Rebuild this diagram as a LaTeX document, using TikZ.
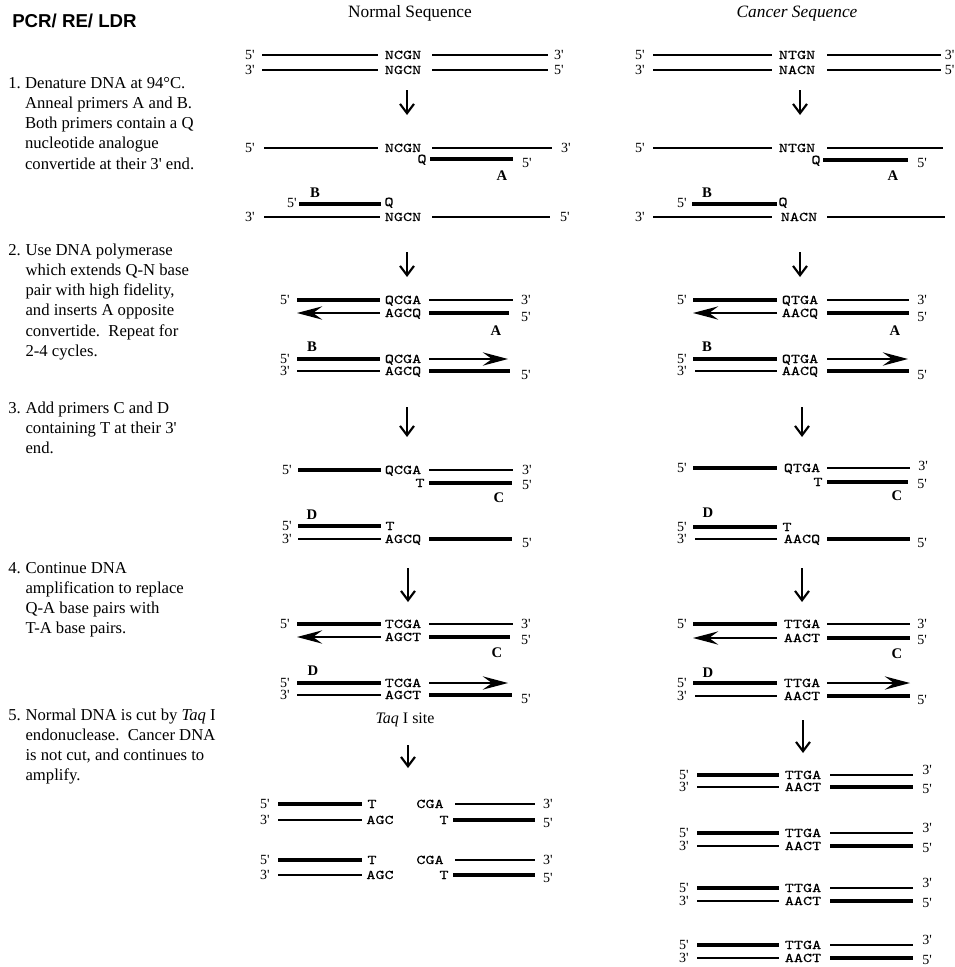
\documentclass[tikz,border=0pt]{standalone}
\usepackage{fontspec}
\setmainfont{Liberation Serif}[Ligatures=TeXOff]
\newfontfamily\headsans{Liberation Sans}
\newfontfamily\seqfont[FakeStretch=1.3,FakeBold=0.15]{Latin Modern Mono}
\usetikzlibrary{arrows.meta}
\newcounter{nn}
\tikzset{
  slimline/.style={line width=1.1pt},
  fatline/.style={line width=3pt},
  growarr/.style={line width=1.1pt,-{Stealth[length=19pt,width=10pt,inset=7pt]}},
  steparr/.style={line width=1.6pt,-{Straight Barb[length=7pt,width=10.5pt]}},
  lab/.style={font=\fontsize{10.5}{12}\selectfont,inner sep=0pt,anchor=base},
  seqt/.style={font=\seqfont\fontsize{10}{12}\selectfont,inner sep=0pt,anchor=base},
  primlab/.style={font=\bfseries\fontsize{11}{13}\selectfont,inner sep=0pt,anchor=base},
  steptext/.style={font=\fontsize{12.5}{15.2}\selectfont,inner sep=0pt,anchor=base west},
}
\newcommand\mylbl[3]{\stepcounter{nn}\node[lab] (n\arabic{nn}) at (#1,#2+4.5) {#3};}
\newcommand\myseq[3]{\stepcounter{nn}\node[seqt] (n\arabic{nn}) at (#1,#2+4) {#3};}
\newcommand\prim[3]{\stepcounter{nn}\node[primlab] (n\arabic{nn}) at (#1,#2+5) {#3};}
\newcommand\slimseg[3]{\draw[slimline] (#1,#3) -- (#2,#3);}
\newcommand\fatseg[3]{\draw[fatline] (#1,#3) -- (#2,#3);}
\newcommand\grow[3]{\draw[growarr] (#1,#3) -- (#2,#3);}
\newcommand\stepdown[4]{\coordinate (#1a) at (#2,#3); \coordinate (#1b) at (#2,#4); \draw[steparr] (#1a) -- (#1b);}
\newcommand\ind{\hspace*{13pt}}
\begin{document}
\begin{tikzpicture}[x=0.75pt,y=-0.75pt]
\useasboundingbox[fill=white] (0,0) rectangle (954,967);

% ---------- headings ----------
\node[inner sep=0pt,anchor=base west,font=\headsans\bfseries\fontsize{14}{16}\selectfont] (title) at (12,27) {PCR/ RE/ LDR};
\node[inner sep=0pt,anchor=base,font=\fontsize{13}{15}\selectfont] (hnorm) at (410,17) {Normal Sequence};
\node[inner sep=0pt,anchor=base,font=\itshape\fontsize{13}{15}\selectfont] (hcanc) at (797,17) {Cancer Sequence};

% ---------- step texts ----------
\node[steptext] (st1) at (8,88) {\parbox[t]{230pt}{\makebox[12.6pt][l]{1.}Denature DNA at 94°C.\\\hspace*{12.6pt}Anneal primers A and B.\\\hspace*{12.6pt}Both primers contain a Q\\\hspace*{12.6pt}nucleotide analogue\\\hspace*{12.6pt}convertide at their 3' end.}};
\node[steptext] (st2) at (8,255) {\parbox[t]{230pt}{\makebox[13pt][l]{2.}Use DNA polymerase\\\ind which extends Q-N base\\\ind pair with high fidelity,\\\ind and inserts A opposite\\\ind convertide.\ \ Repeat for\\\ind 2-4 cycles.}};
\node[steptext] (st3) at (8,413) {\parbox[t]{230pt}{\makebox[13pt][l]{3.}Add primers C and D\\\ind containing T at their 3'\\\ind end.}};
\node[steptext] (st4) at (8,573) {\parbox[t]{230pt}{\makebox[13pt][l]{4.}Continue DNA\\\ind amplification to replace\\\ind Q-A base pairs with\\\ind T-A base pairs.}};
\node[steptext] (st5) at (8,720) {\parbox[t]{230pt}{\makebox[13pt][l]{5.}Normal DNA is cut by \textit{Taq} I\\\ind endonuclease.\ \ Cancer DNA\\\ind is not cut, and continues to\\\ind amplify.}};

% ================= NORMAL COLUMN =================
\mylbl{250}{55}{5'} \slimseg{262}{378}{55} \myseq{403}{55}{NCGN} \slimseg{432}{548}{55} \mylbl{559}{55}{3'}
\mylbl{250}{70}{3'} \slimseg{262}{378}{70} \myseq{403}{70}{NGCN} \slimseg{432}{548}{70} \mylbl{559}{70}{5'}
\stepdown{na1}{407}{90}{115}
\mylbl{250}{148}{5'} \slimseg{264}{378}{148} \myseq{403}{148}{NCGN} \slimseg{432}{552}{148} \mylbl{566}{148}{3'}
\myseq{422}{159}{Q} \fatseg{430}{513}{159} \mylbl{527}{163}{5'} \prim{502}{175}{A}
\prim{315}{192}{B} \mylbl{292}{203}{5'} \fatseg{299}{381}{204} \myseq{389}{202}{Q}
\mylbl{250}{217}{3'} \slimseg{264}{380}{217} \myseq{403}{217}{NGCN} \slimseg{432}{550}{217} \mylbl{565}{217}{5'}
\stepdown{na2}{407}{252}{277}
\mylbl{285}{300}{5'} \fatseg{297}{380}{300} \myseq{403}{300}{QCGA} \slimseg{429}{513}{300} \mylbl{526}{300}{3'}
\grow{380}{297}{313} \myseq{403}{313}{AGCQ} \fatseg{429}{509}{313} \mylbl{526}{317}{5'}
\prim{496}{330}{A}
\prim{312}{346}{B}
\mylbl{285}{359}{5'} \fatseg{297}{380}{359} \myseq{403}{359}{QCGA} \grow{429}{508}{359}
\mylbl{285}{371}{3'} \slimseg{297}{380}{371} \myseq{403}{371}{AGCQ} \fatseg{429}{510}{371} \mylbl{526}{375}{5'}
\stepdown{na3}{407}{407}{437}
\mylbl{287}{470}{5'} \fatseg{298}{381}{470} \myseq{403}{470}{QCGA} \slimseg{429}{513}{470} \mylbl{527}{470}{3'}
\myseq{420}{483}{T} \fatseg{429}{512}{483} \mylbl{527}{485}{5'}
\prim{499}{497}{C}
\prim{312}{514}{D}
\mylbl{287}{526}{5'} \fatseg{298}{381}{526} \myseq{390}{526}{T}
\mylbl{287}{539}{3'} \slimseg{298}{381}{539} \myseq{403}{539}{AGCQ} \fatseg{429}{512}{539} \mylbl{527}{543}{5'}
\stepdown{na4}{408}{568}{602}
\mylbl{285}{624}{5'} \fatseg{297}{381}{624} \myseq{403}{624}{TCGA} \slimseg{429}{513}{624} \mylbl{526}{624}{3'}
\grow{381}{297}{637} \myseq{403}{637}{AGCT} \fatseg{429}{510}{637} \mylbl{526}{640}{5'}
\prim{497}{652}{C}
\prim{313}{670}{D}
\mylbl{285}{683}{5'} \fatseg{297}{381}{683} \myseq{403}{683}{TCGA} \grow{429}{508}{683}
\mylbl{285}{695}{3'} \slimseg{297}{381}{695} \myseq{403}{695}{AGCT} \fatseg{429}{512}{695} \mylbl{526}{699}{5'}
\node[inner sep=0pt,anchor=base,font=\fontsize{12}{14}\selectfont] (taq) at (405,723) {\textit{Taq} I site};
\stepdown{na5}{408}{745}{768}
\foreach \ya/\yb in {804/820,860/875}{
  \mylbl{265}{\ya}{5'} \fatseg{278}{362}{\ya} \myseq{372}{\ya}{T} \myseq{430}{\ya}{CGA} \slimseg{455}{535}{\ya} \mylbl{548}{\ya}{3'}
  \mylbl{265}{\yb}{3'} \slimseg{278}{362}{\yb} \myseq{380}{\yb}{AGC} \myseq{444}{\yb}{T} \fatseg{453}{535}{\yb} \mylbl{548}{\yb+3}{5'}
}

% ================= CANCER COLUMN =================
\mylbl{640}{55}{5'} \slimseg{653}{772}{55} \myseq{797}{55}{NTGN} \slimseg{827}{941}{55}
\node[lab,anchor=base west] (cr1) at (944.5,59.5) {3'};
\mylbl{640}{70}{3'} \slimseg{653}{772}{70} \myseq{797}{70}{NACN} \slimseg{827}{941}{70}
\node[lab,anchor=base west] (cr2) at (944.5,74.5) {5'};
\stepdown{ca1}{800}{90}{115}
\mylbl{640}{148}{5'} \slimseg{653}{772}{148} \myseq{797}{148}{NTGN} \slimseg{827}{943}{148}
\myseq{816}{160}{Q} \fatseg{823}{908}{160} \mylbl{922}{163}{5'} \prim{893}{175}{A}
\prim{707}{192}{B} \mylbl{682}{203}{5'} \fatseg{692}{777}{204} \myseq{783}{202}{Q}
\mylbl{640}{217}{3'} \slimseg{653}{772}{217} \myseq{799}{217}{NACN} \slimseg{827}{945}{217}
\stepdown{ca2}{800}{252}{277}
\mylbl{682}{300}{5'} \fatseg{693}{777}{300} \myseq{800}{300}{QTGA} \slimseg{827}{909}{300} \mylbl{922}{300}{3'}
\grow{777}{693}{313} \myseq{800}{313}{AACQ} \fatseg{827}{909}{313} \mylbl{922}{317}{5'}
\prim{895}{330}{A}
\prim{707}{346}{B}
\mylbl{682}{359}{5'} \fatseg{693}{777}{359} \myseq{800}{359}{QTGA} \grow{827}{908}{359}
\mylbl{682}{371}{3'} \slimseg{695}{777}{371} \myseq{800}{371}{AACQ} \fatseg{827}{909}{371} \mylbl{922}{375}{5'}
\stepdown{ca3}{802}{407}{437}
\mylbl{682}{468}{5'} \fatseg{693}{777}{468} \myseq{802}{468}{QTGA} \slimseg{827}{910}{468} \mylbl{923}{466}{3'}
\myseq{818}{482}{T} \fatseg{827}{908}{482} \mylbl{922}{484}{5'}
\prim{897}{495}{C}
\prim{708}{512}{D}
\mylbl{682}{527}{5'} \fatseg{693}{777}{527} \myseq{787}{527}{T}
\mylbl{682}{539}{3'} \slimseg{695}{777}{539} \myseq{802}{539}{AACQ} \fatseg{827}{910}{539} \mylbl{922}{543}{5'}
\stepdown{ca4}{802}{568}{602}
\mylbl{682}{624}{5'} \fatseg{693}{777}{624} \myseq{802}{624}{TTGA} \slimseg{827}{910}{624} \mylbl{922}{624}{3'}
\grow{777}{693}{638} \myseq{802}{638}{AACT} \fatseg{827}{910}{638} \mylbl{922}{640}{5'}
\prim{897}{653}{C}
\prim{708}{672}{D}
\mylbl{682}{683}{5'} \fatseg{693}{777}{683} \myseq{802}{683}{TTGA} \grow{827}{910}{683}
\mylbl{682}{696}{3'} \slimseg{695}{777}{696} \myseq{802}{696}{AACT} \fatseg{827}{910}{696} \mylbl{922}{700}{5'}
\stepdown{ca5}{803}{720}{753}
\foreach \ya/\yb in {775/787,833/846,888/901,945/958}{
  \mylbl{684}{\ya}{5'} \fatseg{697}{779}{\ya} \myseq{803}{\ya}{TTGA} \slimseg{830}{913}{\ya} \mylbl{927}{\ya-5}{3'}
  \mylbl{684}{\yb}{3'} \slimseg{697}{779}{\yb} \myseq{803}{\yb}{AACT} \fatseg{830}{913}{\yb} \mylbl{927}{\yb+2}{5'}
}
\end{tikzpicture}
\end{document}
